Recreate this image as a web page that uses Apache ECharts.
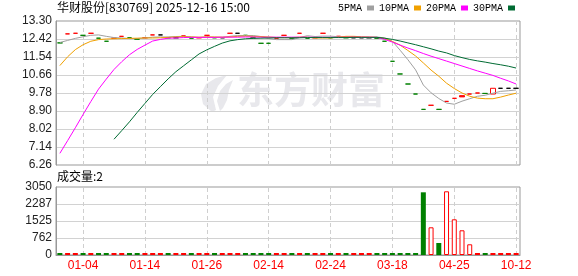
<!DOCTYPE html>
<html><head><meta charset="utf-8">
<script src="https://cdn.jsdelivr.net/npm/echarts@6/dist/echarts.min.js"></script>
<style>html,body{margin:0;padding:0;background:#fff}#c{width:578px;height:276px}</style>
</head><body><div id="c"></div>
<script>
// ---- data ----
const titleText = '华财股份[830769] 2025-12-16 15:00';
const tickIdx = [3, 11, 19, 27, 35, 43, 51, 59];
const tickLabels = ['01-04', '01-14', '01-26', '02-14', '02-24', '03-18', '04-25', '10-12'];
const opens = [12.23,12.67,12.70,12.60,12.70,12.46,12.31,12.46,12.55,12.48,
  12.41,12.48,12.62,12.62,12.48,12.48,12.57,12.46,12.48,12.60,
  12.48,12.48,12.70,12.70,12.60,12.48,12.21,12.21,12.46,12.60,
  12.46,12.70,12.46,12.48,12.70,12.48,12.55,12.48,12.48,12.48,
  12.48,12.46,12.31,11.33,10.71,10.22,9.73,8.98,9.18,8.98,
  9.37,9.52,9.59,9.73,9.78,9.76,9.73,10.01,10.01,10.01];
const closes = [12.23,12.67,12.70,12.60,12.70,12.46,12.31,12.46,12.55,12.48,
  12.41,12.48,12.62,12.62,12.48,12.48,12.57,12.46,12.48,12.60,
  12.48,12.48,12.70,12.70,12.60,12.48,12.21,12.21,12.46,12.60,
  12.46,12.70,12.46,12.48,12.70,12.48,12.55,12.48,12.48,12.48,
  12.48,12.46,12.31,11.33,10.71,10.22,9.73,8.98,9.18,8.98,
  9.37,9.52,9.65,9.73,9.78,9.76,10.01,10.01,10.01,10.01];
// R = up (red), G = down (green), K = unchanged (black)
const candleKind = ['G','R','R','G','R','G','G','R','R','G',
  'G','R','R','K','G','K','R','G','R','R',
  'G','K','R','K','G','G','G','G','R','R',
  'G','R','G','R','R','G','R','G','K','K',
  'K','G','G','G','G','G','G','G','R','G',
  'R','R','R','R','R','G','R','K','K','K'];
const volumes = [3,4,2,5,3,2,6,2,3,2,
  4,2,3,1,2,1,3,2,2,3,
  2,1,3,1,2,2,4,3,2,3,
  2,3,2,2,3,2,2,2,1,1,
  1,3,6,9,12,8,10,2812,1242,538,
  2857,1601,1108,480,12,10,75,2,2,2];
const volKind = ['G','R','R','G','R','G','G','R','R','G',
  'G','R','R','R','G','R','R','G','R','R',
  'G','R','R','R','G','G','G','G','R','R',
  'G','R','G','R','R','G','R','G','R','R',
  'R','G','G','G','G','G','G','G','R','G',
  'R','R','R','R','R','G','R','R','R','R'];
const ma5 = [12.25,12.35,12.45,12.53,12.60,12.62,12.55,12.49,12.47,12.44,
  12.44,12.47,12.51,12.52,12.52,12.54,12.55,12.52,12.49,12.52,
  12.50,12.50,12.55,12.59,12.59,12.59,12.54,12.44,12.39,12.39,
  12.39,12.49,12.58,12.54,12.56,12.56,12.53,12.54,12.54,12.49,
  12.49,12.52,12.47,12.31,11.87,11.41,10.91,10.17,9.79,9.51,
  9.29,9.23,9.38,9.50,9.62,9.67,9.77,9.86,9.89,9.93];
const ma10 = [11.12,11.55,11.90,12.14,12.31,12.39,12.42,12.43,12.44,12.45,
  12.46,12.47,12.47,12.48,12.50,12.52,12.53,12.52,12.51,12.52,
  12.52,12.51,12.52,12.55,12.56,12.55,12.54,12.52,12.49,12.49,
  12.49,12.51,12.51,12.47,12.47,12.47,12.51,12.55,12.55,12.53,
  12.52,12.50,12.44,12.30,12.12,11.86,11.59,11.25,10.90,10.60,
  10.26,10.00,9.78,9.62,9.53,9.50,9.50,9.58,9.68,9.77];
const ma20 = [6.83,7.45,8.08,8.73,9.36,9.97,10.46,10.93,11.31,11.65,
  11.91,12.12,12.32,12.40,12.46,12.47,12.49,12.50,12.50,12.50,
  12.50,12.51,12.51,12.51,12.52,12.52,12.51,12.51,12.51,12.51,
  12.51,12.51,12.51,12.50,12.50,12.50,12.50,12.51,12.51,12.51,
  12.51,12.50,12.40,12.27,12.12,11.98,11.85,11.71,11.58,11.46,
  11.34,11.22,11.10,10.98,10.86,10.75,10.64,10.50,10.37,10.22];
const ma30 = [null,null,null,null,null,null,null,7.52,7.94,8.37,
  8.83,9.27,9.71,10.09,10.47,10.82,11.11,11.40,11.69,11.89,
  12.06,12.22,12.33,12.39,12.43,12.45,12.46,12.47,12.48,12.48,
  12.48,12.48,12.49,12.49,12.49,12.49,12.49,12.49,12.50,12.50,
  12.50,12.50,12.46,12.40,12.32,12.23,12.14,12.04,11.94,11.83,
  11.74,11.61,11.51,11.42,11.35,11.29,11.22,11.16,11.09,11.00];
const maNames = ['5PMA', '10PMA', '20PMA', '30PMA'];
const yMin = 6.26, yMax = 13.30, yStep = 0.88;
const volMax = 3050;

// ---- styles ----
const RED = '#ff0000', GREEN = '#008000', BLACK = '#000000';
const maColors = ['#a0a0a0', '#f0a000', '#ff00ff', '#006b33'];
const kindColor = {R: RED, G: GREEN, K: BLACK};
const cats = closes.map((_, i) => String(i));
const off = v => (v == null ? null : +(v - yMin).toFixed(4));

const candleData = closes.map((c, i) => {
  const o = opens[i];
  const col = kindColor[candleKind[i]];
  const hollow = candleKind[i] === 'R' && Math.abs(c - o) > 0.1;
  const fill = hollow ? '#ffffff' : col;
  return {
    value: [off(o), off(c), off(Math.min(o, c)), off(Math.max(o, c))],
    itemStyle: {color: fill, color0: fill, borderColor: col, borderColor0: col, borderColorDoji: col, borderWidth: 1}
  };
});
const volData = volumes.map((v, i) => {
  const col = kindColor[volKind[i]];
  const hollow = volKind[i] === 'R' && v > 300;
  return {value: v, itemStyle: {color: hollow ? '#ffffff' : col, borderColor: col, borderWidth: hollow ? 1 : 0}};
});

const font = 'Liberation Sans';
const vLines = () => ({
  silent: true, symbol: ['none', 'none'], label: {show: false},
  lineStyle: {type: [4, 3], color: '#cfcfcf', width: 1},
  data: tickIdx.map(i => ({xAxis: String(i)})), z: 0
});

const chart = echarts.init(document.getElementById('c'), null, {renderer: 'canvas'});
chart.setOption({
  animation: false,
  backgroundColor: '#fff',
  grid: [
    {left: 56, top: 21, width: 464, height: 144, show: true, borderColor: '#999', borderWidth: 1},
    {left: 56, top: 187, width: 464, height: 68, show: true, borderColor: '#999', borderWidth: 1}
  ],
  legend: {
    data: maNames, left: 338, top: 3, icon: 'rect', itemWidth: 7, itemHeight: 5, itemGap: 5,
    align: 'right', selectedMode: false, padding: 0,
    textStyle: {fontFamily: 'Liberation Mono', fontSize: 10, color: '#000'}
  },
  graphic: [
    {type: 'text', left: 57, top: 1, style: {text: titleText, font: '12px "Noto Sans CJK SC"', fill: '#000'}},
    {type: 'text', left: 57, top: 170, style: {text: '成交量:' + volumes[volumes.length - 1], font: '12px "Noto Sans CJK SC"', fill: '#000'}},
    {type: 'polygon', z: -1, shape: {points: [[212,112],[203,104],[201,94],[206,84],[216,78],[227,75],[218,86],[213,97],[216,110]]},
      style: {fill: '#e8e8ec'}},
    {type: 'polygon', z: -1, shape: {points: [[220,111],[217,101],[220,91],[226,84],[233,80],[229,90],[227,100],[223,108]]},
      style: {fill: '#e8e8ec'}},
    {type: 'text', left: 237, top: 71, z: -1, style: {text: '东方财富', font: 'bold 37px "Noto Sans CJK SC"', fill: '#e8e8ec'}}
  ],
  xAxis: [
    {type: 'category', data: cats, gridIndex: 0, boundaryGap: true,
      axisLine: {show: false}, axisTick: {show: false}, axisLabel: {show: false}, splitLine: {show: false}},
    {type: 'category', data: cats, gridIndex: 1, boundaryGap: true,
      axisLine: {show: true, lineStyle: {color: '#999'}}, axisTick: {show: false}, splitLine: {show: false},
      axisLabel: {
        interval: (i) => tickIdx.includes(i),
        formatter: (v, i) => tickLabels[tickIdx.indexOf(i)] || '',
        color: RED, fontFamily: font, fontSize: 12, margin: 5
      }}
  ],
  yAxis: [
    {type: 'value', gridIndex: 0, min: 0, max: +(yMax - yMin).toFixed(2), interval: yStep,
      axisLine: {show: true, lineStyle: {color: '#999'}}, axisTick: {show: false},
      axisLabel: {formatter: v => (v + yMin).toFixed(2), color: '#222', fontFamily: font, fontSize: 12, margin: 4},
      splitLine: {show: true, showMinLine: false, showMaxLine: false, lineStyle: {color: '#d2d2d2', width: 1}}},
    {type: 'value', gridIndex: 1, min: 0, max: volMax, interval: volMax / 4,
      axisLine: {show: true, lineStyle: {color: '#999'}}, axisTick: {show: false},
      axisLabel: {formatter: v => String(Math.floor(v)), color: '#222', fontFamily: font, fontSize: 12, margin: 4},
      splitLine: {show: true, showMinLine: false, showMaxLine: false, lineStyle: {color: '#d2d2d2', width: 1}}}
  ],
  series: [
    {type: 'candlestick', name: 'K', xAxisIndex: 0, yAxisIndex: 0, barWidth: 5, data: candleData,
      markLine: vLines(), z: 2},
    ...[ma5, ma10, ma20, ma30].map((arr, k) => ({
      type: 'line', name: maNames[k], xAxisIndex: 0, yAxisIndex: 0, data: arr.map(off),
      showSymbol: false, symbol: 'none', connectNulls: false, color: maColors[k],
      lineStyle: {width: 1, color: maColors[k]}, z: 3
    })),
    {type: 'bar', name: 'VOL', xAxisIndex: 1, yAxisIndex: 1, barWidth: 5, barMinHeight: 2, data: volData,
      markLine: vLines(), z: 2}
  ]
});
</script></body></html>
